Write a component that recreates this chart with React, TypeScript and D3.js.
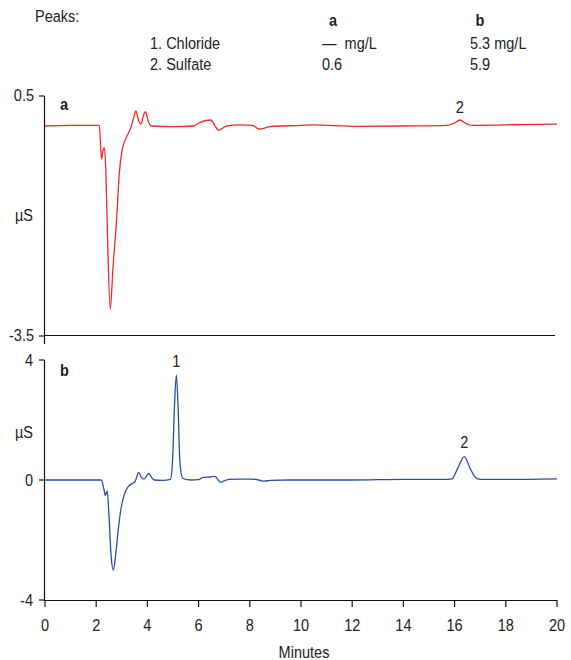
import React from "react";
import * as d3 from "d3";

// trace a (red) - minutes / µS
const timesA = [0, 1, 2.12, 2.17, 2.21, 2.27, 2.32, 2.38, 2.45, 2.55, 2.65, 2.8, 2.9, 3.0, 3.19, 3.36, 3.45, 3.55, 3.65, 3.75, 3.85, 3.93, 4.03, 4.17, 5, 5.8, 6.05, 6.47, 6.62, 6.77, 7.1, 7.6, 8.1, 8.37, 8.8, 10, 10.5, 12.2, 14, 15.7, 16.0, 16.2, 16.45, 16.67, 18, 20];
const valuesA = [0, 0.01, 0.01, -0.3, -0.55, -0.4, -0.36, -0.8, -2.0, -3.05, -2.4, -1.53, -0.8, -0.43, -0.18, -0.02, 0.12, 0.25, 0.1, 0.03, 0.18, 0.24, 0.08, 0.0, -0.01, 0.0, 0.06, 0.1, 0.02, -0.07, 0.0, 0.02, 0.01, -0.05, -0.01, 0.01, 0.02, -0.005, 0.0, 0.01, 0.05, 0.1, 0.04, 0.01, 0.02, 0.03];

// trace b (blue)
const timesB = [0, 1, 2.2, 2.3, 2.36, 2.43, 2.5, 2.58, 2.67, 2.76, 2.86, 2.97, 3.09, 3.25, 3.4, 3.52, 3.66, 3.77, 3.87, 4.05, 4.15, 4.26, 4.6, 4.9, 4.98, 5.05, 5.13, 5.2, 5.27, 5.38, 5.7, 6.0, 6.18, 6.45, 6.64, 6.75, 6.86, 7.0, 7.2, 7.6, 8.1, 8.35, 8.57, 8.8, 9.5, 12, 14, 15.6, 15.9, 16.1, 16.38, 16.6, 16.8, 17.0, 18, 20];
const valuesB = [0, 0, 0, -0.3, -0.52, -0.36, -1.2, -2.5, -3.0, -2.5, -1.67, -0.95, -0.5, -0.22, -0.12, -0.05, 0.25, 0.08, 0.03, 0.22, 0.1, 0.0, -0.01, 0.02, 0.6, 2.3, 3.5, 2.4, 0.6, 0.05, 0.0, 0.01, 0.09, 0.1, 0.12, 0.02, -0.08, -0.03, 0.02, 0.03, 0.03, 0.0, -0.04, -0.01, 0.0, 0.0, 0.02, 0.02, 0.04, 0.35, 0.78, 0.4, 0.1, 0.02, 0.02, 0.04];

const xTicks = [0, 2, 4, 6, 8, 10, 12, 14, 16, 18, 20];
const yTicksA = [0.5, -3.5];
const yTicksB = [4, 0, -4];

const peakNames = ["1. Chloride", "2. Sulfate"];
const amountsA = ["\u2014\u00a0\u00a0mg/L", "0.6"];
const amountsB = ["5.3 mg/L", "5.9"];

const font = "'Liberation Sans', Arial, sans-serif";

// condensed text: normal sans squeezed horizontally
function T({ x, y, anchor = "start", bold = false, children }: any) {
  return (
    <text
      transform={`translate(${x},${y}) scale(0.88,1)`}
      fontFamily={font}
      fontSize={16.5}
      fontWeight={bold ? "bold" : "normal"}
      fill="#222"
      textAnchor={anchor}
    >
      {children}
    </text>
  );
}

export default function App() {
  const width = 571;
  const height = 660;

  const x = d3.scaleLinear().domain([0, 20]).range([45, 557]);
  const yA = d3.scaleLinear().domain([-3.5, 0.5]).range([336, 96]);
  const yB = d3.scaleLinear().domain([-4, 4]).range([600, 360]);

  const lineA = d3.line<number>()
    .x((_, i) => x(timesA[i]))
    .y(d => yA(d))
    .curve(d3.curveMonotoneX);
  const lineB = d3.line<number>()
    .x((_, i) => x(timesB[i]))
    .y(d => yB(d))
    .curve(d3.curveMonotoneX);

  return (
    <svg width={width} height={height} style={{ position: "absolute", left: 0, top: 0, background: "#fff" }}>
      {/* header */}
      <T x={35} y={22}>Peaks:</T>
      <T x={333} y={26} anchor="middle" bold>a</T>
      <T x={480} y={26} anchor="middle" bold>b</T>
      {peakNames.map((n, i) => (
        <g key={n}>
          <T x={150} y={49 + i * 21}>{n}</T>
          <T x={322} y={49 + i * 21}>{amountsA[i]}</T>
          <T x={470} y={49 + i * 21}>{amountsB[i]}</T>
        </g>
      ))}

      {/* panel a */}
      <line x1={44.5} x2={44.5} y1={96} y2={344} stroke="#111" strokeWidth={1.2} />
      <line x1={44} x2={555} y1={335.5} y2={335.5} stroke="#111" strokeWidth={1.2} />
      {yTicksA.map(t => (
        <g key={t}>
          <line x1={39} x2={44.5} y1={yA(t)} y2={yA(t)} stroke="#111" strokeWidth={1.2} />
          <T x={34} y={yA(t) + 5} anchor="end">{t}</T>
        </g>
      ))}
      <T x={24} y={221} anchor="middle">µS</T>
      <T x={60} y={110} bold>a</T>
      <path d={lineA(valuesA) || ""} fill="none" stroke="#ee2a2f" strokeWidth={1.3} />
      <T x={x(16.2)} y={113} anchor="middle">2</T>

      {/* panel b */}
      <line x1={44.5} x2={44.5} y1={360} y2={600} stroke="#111" strokeWidth={1.2} />
      <line x1={44} x2={557} y1={600.5} y2={600.5} stroke="#111" strokeWidth={1.2} />
      {yTicksB.map(t => (
        <g key={t}>
          <T x={33} y={yB(t) + 6} anchor="end">{t}</T>
          <line x1={39} x2={44.5} y1={yB(t)} y2={yB(t)} stroke="#111" strokeWidth={1.2} />
        </g>
      ))}
      <T x={24} y={438} anchor="middle">µS</T>
      <T x={60} y={376} bold>b</T>
      <path d={lineB(valuesB) || ""} fill="none" stroke="#2f4ea3" strokeWidth={1.3} />
      <T x={x(5.13)} y={367} anchor="middle">1</T>
      <T x={x(16.38)} y={448} anchor="middle">2</T>

      {/* x axis */}
      {xTicks.map(t => (
        <g key={t}>
          <line x1={x(t)} x2={x(t)} y1={600} y2={607} stroke="#111" strokeWidth={1.2} />
          <T x={x(t)} y={631} anchor="middle">{t}</T>
        </g>
      ))}
      <T x={304} y={658} anchor="middle">Minutes</T>
    </svg>
  );
}
